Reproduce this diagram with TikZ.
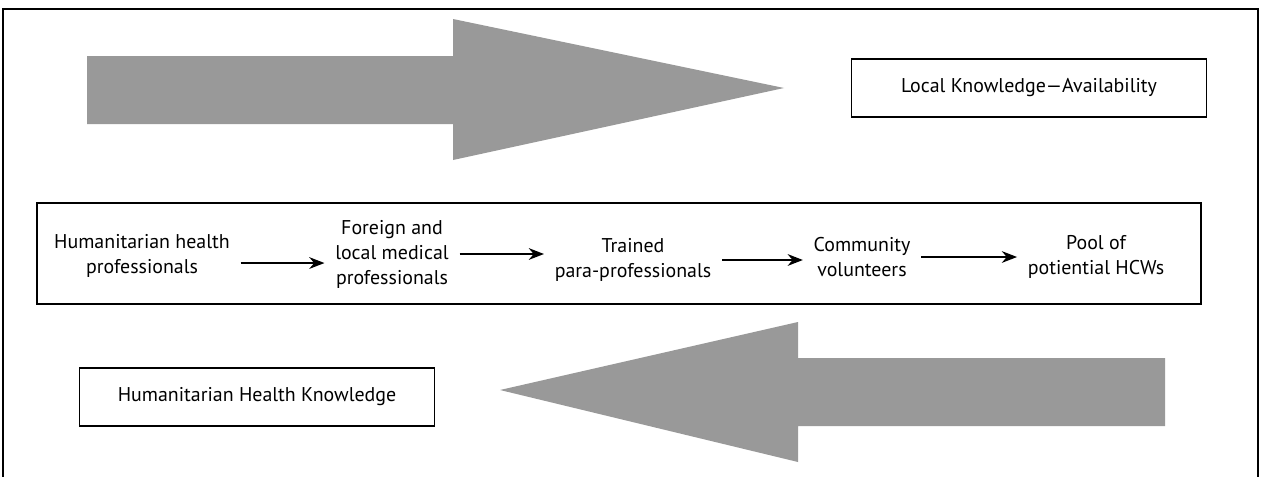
\documentclass[tikz,border=0pt]{standalone}
\usepackage{fontspec}
\setmainfont{PT Sans}
\usetikzlibrary{arrows.meta}

\begin{document}
\begin{tikzpicture}[x=0.03cm,y=-0.03cm,
  bigarrow/.style={fill=black!40,draw=none},
  labelbox/.style={draw,line width=1.2pt,minimum width=10.65cm,minimum height=1.75cm,font=\fontsize{17}{21.3}\selectfont},
  stage/.style={align=center,inner sep=9pt,font=\fontsize{17}{21.3}\selectfont},
  flow/.style={line width=1.6pt,-{Stealth[length=13pt,width=10pt]}}]

% Page and frame
\clip (0,0) rectangle (1267,476);
\fill[white] (0,0) rectangle (1267,476);
\draw[line width=1.6pt] (3,490) -- (3,9) -- (1258,9) -- (1258,490);

% Big arrows
\fill[bigarrow] (87,56) -- (453,56) -- (453,19) -- (784,88) -- (453,160) -- (453,124) -- (87,124) -- cycle;
\fill[bigarrow] (1165,358) -- (798,358) -- (798,322) -- (500,390) -- (798,462) -- (798,426) -- (1165,426) -- cycle;

% Knowledge boxes
\node[labelbox] (local) at (1029,88) {Local Knowledge---Availability};
\node[labelbox] (human) at (257,397) {Humanitarian Health Knowledge};

% Chain of health workers
\draw[line width=1.2pt] (37,203) rectangle (1201,304);
\node[stage] (hhp) at (142,256) {Humanitarian health\\professionals};
\node[stage] (flmp) at (392,254) {Foreign and\\local medical\\professionals};
\node[stage] (tpp) at (633,260) {Trained\\para-professionals};
\node[stage] (cv) at (862,257) {Community\\volunteers};
\node[stage] (pool) at (1096,257) {Pool of\\potiential HCWs};

\draw[flow] ([yshift=-6pt]hhp.east) -- ([yshift=-6pt]hhp.east -| flmp.west);
\draw[flow] (flmp.east) -- (flmp.east -| tpp.west);
\draw[flow] (tpp.east) -- (tpp.east -| cv.west);
\draw[flow] (cv.east) -- (cv.east -| pool.west);

\end{tikzpicture}
\end{document}
